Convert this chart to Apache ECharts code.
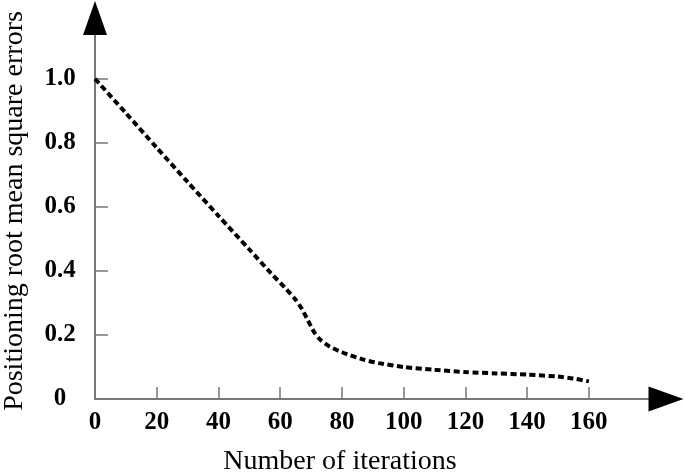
<!DOCTYPE html>
<html><head><meta charset="utf-8">
<script src="https://cdn.jsdelivr.net/npm/echarts@6/dist/echarts.min.js"></script>
<style>html,body{margin:0;padding:0;background:#fff}#c{width:685px;height:476px}</style>
</head><body><div id="c"></div>
<script>
const iterations = [0, 10, 20, 30, 40, 50, 57, 62, 65, 67, 69, 71, 73, 76, 80, 87, 92, 100, 110, 120, 130, 140, 150, 155, 160];
const rmse = [1.0, 0.893, 0.785, 0.678, 0.572, 0.467, 0.393, 0.343, 0.31, 0.282, 0.245, 0.209, 0.185, 0.164, 0.146, 0.123, 0.112, 0.10, 0.091, 0.084, 0.080, 0.076, 0.070, 0.064, 0.055];
const xTicks = [20, 40, 60, 80, 100, 120, 140, 160];
const xLabels = [0, 20, 40, 60, 80, 100, 120, 140, 160];
const yTicks = [0.2, 0.4, 0.6, 0.8, 1.0];
const yLabels = [0, 0.2, 0.4, 0.6, 0.8, 1.0];
const xTitle = 'Number of iterations';
const yTitle = 'Positioning root mean square errors';

const font = '"Liberation Serif", "Times New Roman", serif';
const axisColor = '#777';
const chart = echarts.init(document.getElementById('c'), null, {renderer: 'canvas'});
function arrowAxis(extra, size) {
  return Object.assign({
    type: 'value', min: 0,
    axisLine: {show: true, onZero: false, lineStyle: {color: '#000', width: 0}, symbol: ['none', 'triangle'], symbolSize: size},
    axisTick: {show: false}, axisLabel: {show: false}, splitLine: {show: false}
  }, extra);
}
chart.setOption({
  animation: false,
  grid: {left: 95, right: 19, top: 18, bottom: 77, containLabel: false},
  xAxis: [{
    type: 'value', min: 0, max: 185,
    axisLine: {show: true, lineStyle: {color: axisColor, width: 2}},
    axisTick: {show: true, inside: true, length: 12, lineStyle: {color: axisColor, width: 1.5}, customValues: xTicks},
    axisLabel: {customValues: xLabels, margin: 11, color: '#000', fontFamily: font, fontWeight: 'bold', fontSize: 25,
      formatter: v => String(v)},
    splitLine: {show: false}
  }, arrowAxis({max: 185, position: 'bottom'}, [25, 35])],
  yAxis: [{
    type: 'value', min: 0, max: 1.19,
    axisLine: {show: true, lineStyle: {color: axisColor, width: 2}},
    axisTick: {show: true, inside: true, length: 13, lineStyle: {color: axisColor, width: 1.5}, customValues: yTicks},
    axisLabel: {customValues: yLabels, margin: 35, align: 'center', color: '#000', fontFamily: font, fontWeight: 'bold', fontSize: 25,
      formatter: v => v === 0 ? '0' : v.toFixed(1)},
    splitLine: {show: false}
  }, arrowAxis({max: 1.19, position: 'left'}, [24, 34])],
  graphic: [
    {type: 'text', x: 340, y: 462, style: {text: xTitle, x: 0, y: 0, align: 'center', verticalAlign: 'middle', font: '28px ' + font, fill: '#000'}},
    {type: 'text', x: 15, y: 211, rotation: Math.PI / 2, style: {text: yTitle, x: 0, y: 0, align: 'center', verticalAlign: 'middle', font: '28px ' + font, fill: '#000'}}
  ],
  series: [{
    type: 'line',
    data: iterations.map((x, i) => [x, rmse[i]]),
    smooth: 0.25,
    showSymbol: false,
    lineStyle: {color: '#000', width: 4, type: [6, 3.5]}
  }]
});
</script>
</body></html>
